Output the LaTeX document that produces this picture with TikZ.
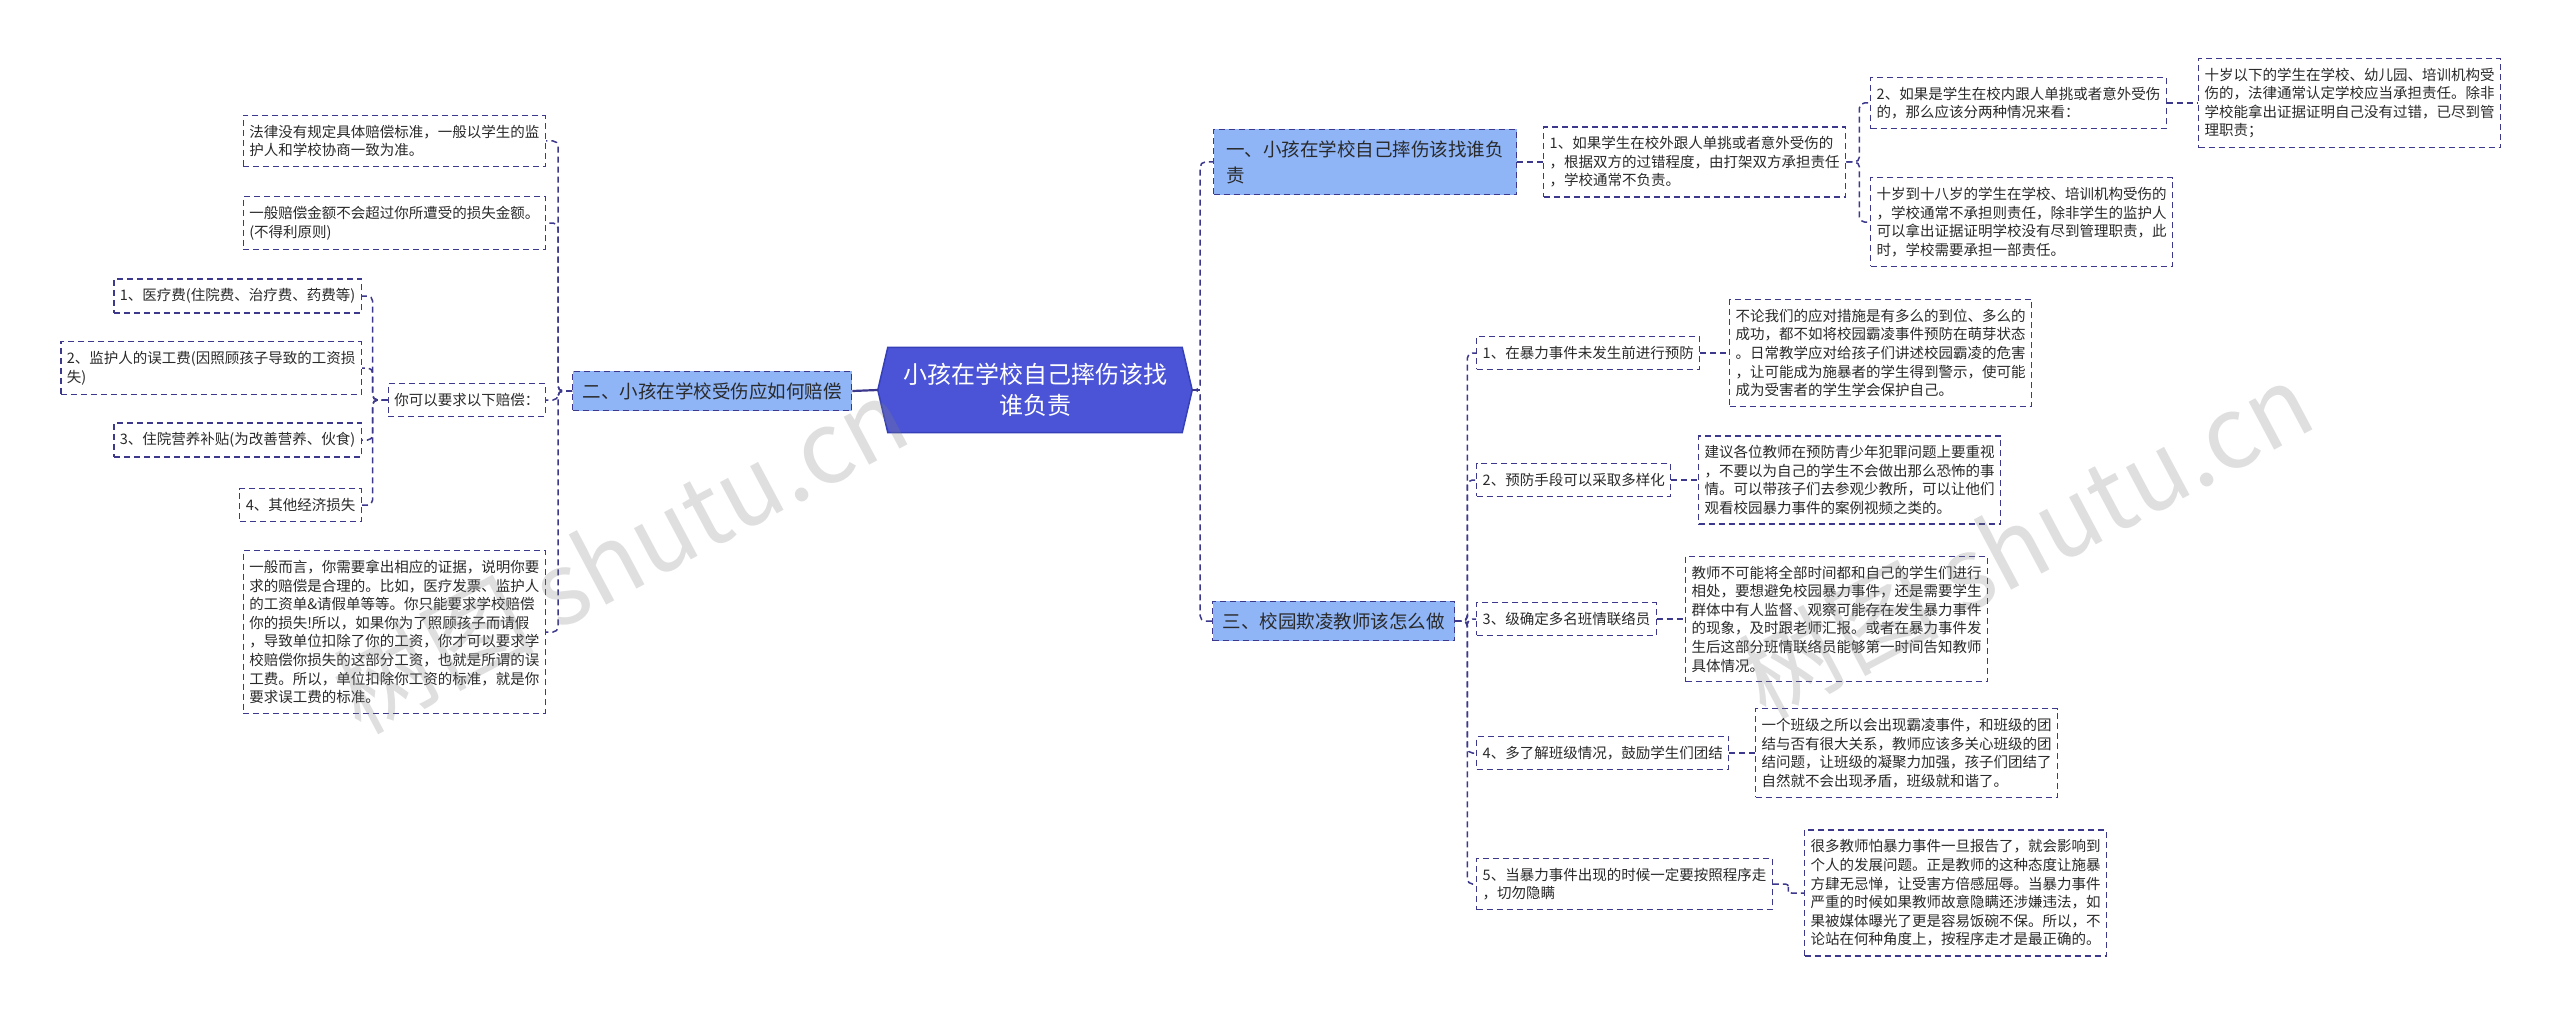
\documentclass[tikz,border=0pt]{standalone}
\usepackage{fontspec}
\setmainfont{Noto Sans CJK SC}
\usetikzlibrary{calc}
\pgfdeclarelayer{bg}
\pgfdeclarelayer{paper}
\pgfsetlayers{paper,bg,main}
\definecolor{linec}{HTML}{3C388C}
\definecolor{ctrfill}{HTML}{4B54D6}
\definecolor{ctrdraw}{HTML}{3540B8}
\definecolor{brfill}{HTML}{8FB5F7}
\definecolor{txtc}{HTML}{2A2A2A}
\newcommand\leaffont{\fontsize{14.5pt}{18.6pt}\selectfont}
\newcommand\brfont{\fontsize{18.5pt}{26pt}\selectfont}
\newcommand\ctrfont{\fontsize{24pt}{31pt}\selectfont}
\newcommand\wmfont{\fontsize{100pt}{110pt}\selectfont}
\tikzset{
  dsh/.style={dash pattern=on 6pt off 4pt},
  leaf/.style={draw=linec, line width=1.4pt, dsh, fill=white, text=txtc, align=left,
    inner xsep=6pt, inner ysep=9.5pt, font=\leaffont},
  branch/.style={draw=linec, line width=1.4pt, dsh, fill=brfill, text=txtc, align=left,
    inner xsep=10pt, inner ysep=11pt, font=\brfont},
  conn/.style={draw=linec, line width=1.5pt, dsh, rounded corners=5pt},
  solidconn/.style={draw=linec, line width=2.2pt},
  wm/.style={text=gray, opacity=0.25, font=\wmfont, rotate=28}
}
\begin{document}
\begin{tikzpicture}[x=1pt,y=-1pt]
\begin{pgfonlayer}{paper}
\path[use as bounding box, fill=white] (0,0) rectangle (2560,1014);
\end{pgfonlayer}

% centre
\node[text=white, font=\ctrfont, align=center, minimum width=294pt, minimum height=85pt, inner sep=0pt] (ctr) at (1035,390) {小孩在学校自己摔伤该找\\谁负责};
\begin{pgfonlayer}{bg}
\draw[fill=ctrfill, draw=ctrdraw, line width=1.5pt] (ctr.north west) -- (ctr.north east) -- ([xshift=10pt]ctr.east) -- (ctr.south east) -- (ctr.south west) -- ([xshift=-10pt]ctr.west) -- cycle;
\end{pgfonlayer}
\coordinate (ctrL) at ([xshift=-10pt]ctr.west);
\coordinate (ctrR) at ([xshift=10pt]ctr.east);

% branches
\node[branch, anchor=west] (b2) at (572,391) {二、小孩在学校受伤应如何赔偿};
\node[branch, anchor=west, minimum width=303pt] (b1) at (1213,162) {一、小孩在学校自己摔伤该找谁负\\责};
\node[branch, anchor=west] (b3) at (1212,621) {三、校园欺凌教师该怎么做};

% left side
\node[leaf, anchor=east] (L1) at (546,141) {法律没有规定具体赔偿标准，一般以学生的监\\护人和学校协商一致为准。};
\node[leaf, anchor=east] (L2) at (546,223) {一般赔偿金额不会超过你所遭受的损失金额。\\(不得利原则)};
\node[leaf, anchor=east] (L3) at (546,400) {你可以要求以下赔偿：};
\node[leaf, anchor=east] (L4) at (546,632) {一般而言，你需要拿出相应的证据，说明你要\\求的赔偿是合理的。比如，医疗发票、监护人\\的工资单\&请假单等等。你只能要求学校赔偿\\你的损失!所以，如果你为了照顾孩子而请假\\，导致单位扣除了你的工资，你才可以要求学\\校赔偿你损失的这部分工资，也就是所谓的误\\工费。所以，单位扣除你工资的标准，就是你\\要求误工费的标准。};
\node[leaf, anchor=east] (c1) at (362,296) {1、医疗费(住院费、治疗费、药费等)};
\node[leaf, anchor=east] (c2) at (362,368) {2、监护人的误工费(因照顾孩子导致的工资损\\失)};
\node[leaf, anchor=east] (c3) at (362,440) {3、住院营养补贴(为改善营养、伙食)};
\node[leaf, anchor=east] (c4) at (362,505) {4、其他经济损失};

% right side, branch one
\node[leaf, anchor=west] (r11) at (1543,162) {1、如果学生在校外跟人单挑或者意外受伤的\\，根据双方的过错程度，由打架双方承担责任\\，学校通常不负责。};
\node[leaf, anchor=west] (r2) at (1870,103) {2、如果是学生在校内跟人单挑或者意外受伤\\的，那么应该分两种情况来看：};
\node[leaf, anchor=west] (r3) at (1870,222) {十岁到十八岁的学生在学校、培训机构受伤的\\，学校通常不承担则责任，除非学生的监护人\\可以拿出证据证明学校没有尽到管理职责，此\\时，学校需要承担一部责任。};
\node[leaf, anchor=west] (r4) at (2198,103) {十岁以下的学生在学校、幼儿园、培训机构受\\伤的，法律通常认定学校应当承担责任。除非\\学校能拿出证据证明自己没有过错，已尽到管\\理职责；};

% right side, branch three
\node[leaf, anchor=west] (s1) at (1476,353) {1、在暴力事件未发生前进行预防};
\node[leaf, anchor=west] (t1) at (1729,353) {不论我们的应对措施是有多么的到位、多么的\\成功，都不如将校园霸凌事件预防在萌芽状态\\。日常教学应对给孩子们讲述校园霸凌的危害\\，让可能成为施暴者的学生得到警示，使可能\\成为受害者的学生学会保护自己。};
\node[leaf, anchor=west] (s2) at (1476,480) {2、预防手段可以采取多样化};
\node[leaf, anchor=west] (t2) at (1698,480) {建议各位教师在预防青少年犯罪问题上要重视\\，不要以为自己的学生不会做出那么恐怖的事\\情。可以带孩子们去参观少教所，可以让他们\\观看校园暴力事件的案例视频之类的。};
\node[leaf, anchor=west] (s3) at (1476,619) {3、级确定多名班情联络员};
\node[leaf, anchor=west] (t3) at (1685,619) {教师不可能将全部时间都和自己的学生们进行\\相处，要想避免校园暴力事件，还是需要学生\\群体中有人监督、观察可能存在发生暴力事件\\的现象，及时跟老师汇报。或者在暴力事件发\\生后这部分班情联络员能够第一时间告知教师\\具体情况。};
\node[leaf, anchor=west] (s4) at (1476,753) {4、多了解班级情况，鼓励学生们团结};
\node[leaf, anchor=west] (t4) at (1755,753) {一个班级之所以会出现霸凌事件，和班级的团\\结与否有很大关系，教师应该多关心班级的团\\结问题，让班级的凝聚力加强，孩子们团结了\\自然就不会出现矛盾，班级就和谐了。};
\node[leaf, anchor=west] (s5) at (1476,884) {5、当暴力事件出现的时候一定要按照程序走\\，切勿隐瞒};
\node[leaf, anchor=west] (t5) at (1804,893) {很多教师怕暴力事件一旦报告了，就会影响到\\个人的发展问题。正是教师的这种态度让施暴\\方肆无忌惮，让受害方倍感屈辱。当暴力事件\\严重的时候如果教师故意隐瞒还涉嫌违法，如\\果被媒体曝光了更是容易饭碗不保。所以，不\\论站在何种角度上，按程序走才是最正确的。};

% connectors
\begin{pgfonlayer}{bg}
\draw[solidconn] (b2.east) -- (ctrL);
\draw[solidconn] (ctrR) -- ++(8,0);
\draw[conn] (ctrR) -- ++(8,0) |- (b1.west);
\draw[conn] (ctrR) -- ++(8,0) |- (b3.west);
\foreach \n in {L1,L2,L3,L4} \draw[conn] (b2.west) -- ++(-14,0) |- (\n.east);
\foreach \n in {c1,c2,c3,c4} \draw[conn] (L3.west) -- ++(-15,0) |- (\n.east);
\draw[conn] (b1.east) -- (r11.west);
\draw[conn] (r11.east) -- ++(13,0) |- (r2.west);
\draw[conn] (r11.east) -- ++(13,0) |- (r3.west);
\draw[conn] (r2.east) -- (r4.west);
\foreach \n in {s1,s2,s3,s4,s5} \draw[conn] (b3.east) -- ++(12,0) |- (\n.west);
\foreach \a/\b in {s1/t1,s2/t2,s3/t3,s4/t4}
  \draw[conn] (\a.east) -- (\b.west);
\draw[conn, rounded corners=3pt] (s5.east) -| ($(s5.east)!0.5!(t5.west)$) |- (t5.west);
\end{pgfonlayer}

% watermarks
\node[wm] (wm1) at (620,555) {树图 shutu.cn};
\node[wm] (wm2) at (2025,540) {树图 shutu.cn};
\end{tikzpicture}
\end{document}
